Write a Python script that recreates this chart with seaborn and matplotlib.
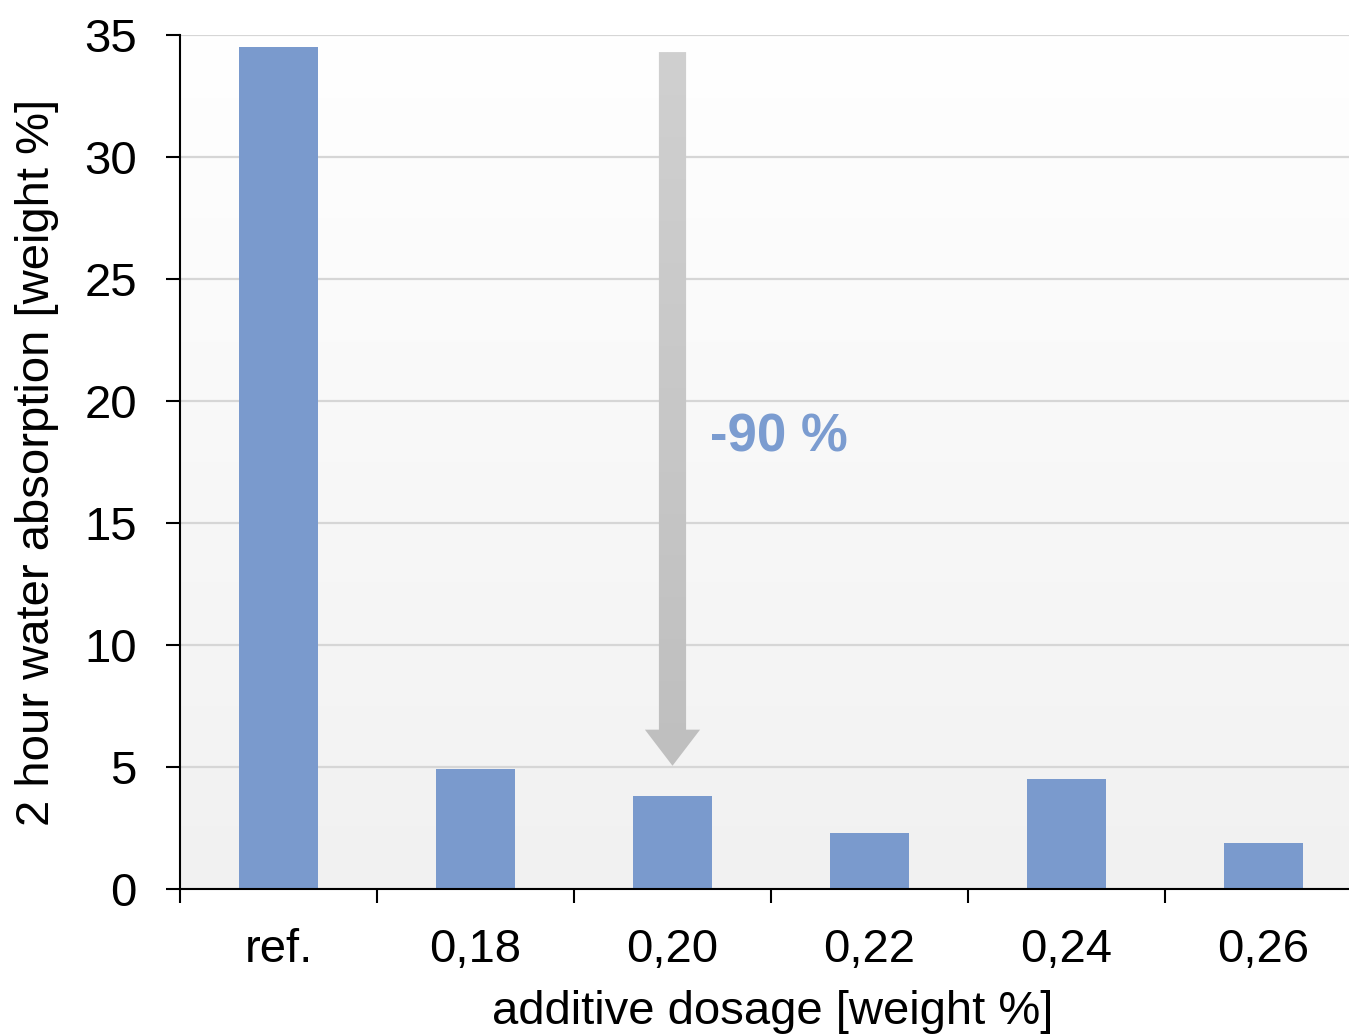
import numpy as np
import pandas as pd
import matplotlib
matplotlib.use("Agg")
import matplotlib.pyplot as plt
from matplotlib.patches import Polygon
import seaborn as sns

categories = ["ref.", "0,18", "0,20", "0,22", "0,24", "0,26"]
values = [34.5, 4.9, 3.8, 2.3, 4.5, 1.9]
y_ticks = [0, 5, 10, 15, 20, 25, 30, 35]
annotation_text = "-90 %"

bar_color = "#7a9acd"

sns.set_theme(style="white")
plt.rcParams['font.family'] = ['Liberation Sans', 'DejaVu Sans']

fig = plt.figure(figsize=(13.49, 10.34), dpi=100)
ax = fig.add_axes([180/1349, 1-889/1034, (1362-180)/1349, (889-35)/1034])

df = pd.DataFrame({"cat": categories, "val": values})
sns.barplot(data=df, x="cat", y="val", color=bar_color, width=0.4,
            saturation=1, edgecolor="none", ax=ax, zorder=3)

ax.set_xlim(-0.5, 5.5)
ax.set_ylim(0, 35)

# background gradient
grad = np.linspace(0, 1, 256).reshape(-1, 1)
bg_cmap = matplotlib.colors.LinearSegmentedColormap.from_list("bg", ["#ffffff", "#f1f1f1"])
ax.imshow(grad, cmap=bg_cmap, extent=[0, 1, 0, 1], transform=ax.transAxes,
          aspect="auto", zorder=0, origin="upper")
ax.set_facecolor("white")

ax.set_yticks(y_ticks)
ax.yaxis.grid(True, color="#d6d6d6", linewidth=1.6, zorder=1)
ax.set_axisbelow(True)
for g in ax.get_ygridlines():
    g.set_zorder(1)

for s in ["top", "right"]:
    ax.spines[s].set_visible(False)
for s in ["left", "bottom"]:
    ax.spines[s].set_color("black")
    ax.spines[s].set_linewidth(1.5)
    ax.spines[s].set_zorder(5)

ax.tick_params(axis="y", which="major", direction="out", length=10, width=1.5,
               color="black", labelsize=34, pad=21, left=True)
ax.set_xticks(np.arange(len(categories)))
ax.set_xticklabels(categories)
ax.set_xticks(np.arange(len(categories)) - 0.5, minor=True)
ax.tick_params(axis="x", which="major", length=0, labelsize=34, pad=28)
ax.tick_params(axis="x", which="minor", direction="out", length=10, width=1.5,
               color="black", bottom=True)

ax.set_xlabel("additive dosage [weight %]", fontsize=34, color="black")
ax.set_ylabel("2 hour water absorption [weight %]", fontsize=34, labelpad=18, color="black")
for lab in ax.get_xticklabels() + ax.get_yticklabels():
    lab.set_color("black")
ax.xaxis.set_label_coords((773-180)/(1362-180), -(990-889)/854)

# gradient arrow
arrow_x = 2
arrow_top = 34.3
arrow_tip = 5.05
shaft_hw = 0.069
head_hw = 0.14
head_len = 1.48
pts = [(arrow_x - shaft_hw, arrow_top), (arrow_x + shaft_hw, arrow_top),
       (arrow_x + shaft_hw, arrow_tip + head_len), (arrow_x + head_hw, arrow_tip + head_len),
       (arrow_x, arrow_tip), (arrow_x - head_hw, arrow_tip + head_len),
       (arrow_x - shaft_hw, arrow_tip + head_len)]
poly = Polygon(pts, closed=True, facecolor="none", edgecolor="none", zorder=4)
ax.add_patch(poly)
arr_cmap = matplotlib.colors.LinearSegmentedColormap.from_list("arr", ["#d0d0d0", "#bfbfbf"])
im = ax.imshow(grad, cmap=arr_cmap, aspect="auto", origin="upper", zorder=4,
               extent=[arrow_x - head_hw, arrow_x + head_hw, arrow_tip, arrow_top])
im.set_clip_path(poly)
ax.set_xlim(-0.5, 5.5)
ax.set_ylim(0, 35)

ax.text(2.19, 18.5, annotation_text, fontsize=38, fontweight="bold",
        color="#7b9cd0", ha="left", va="center", zorder=6)

fig.savefig("out.png", dpi=100)
